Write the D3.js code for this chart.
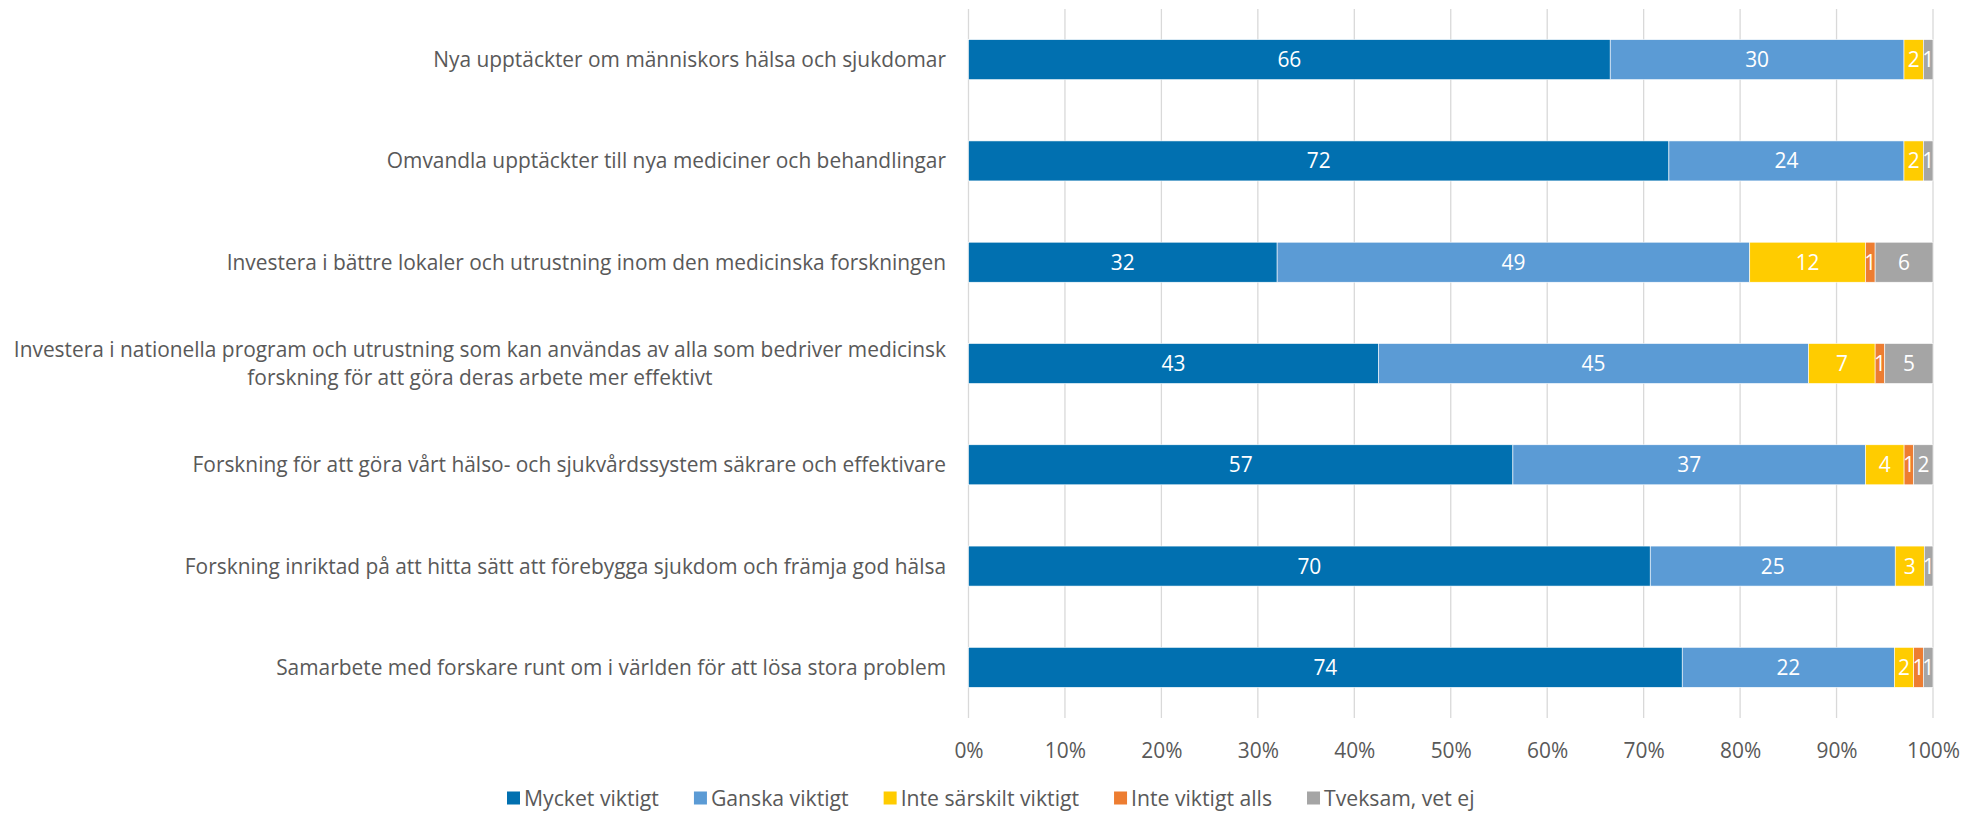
<!DOCTYPE html>
<html>
<head>
<meta charset="utf-8">
<script src="https://cdn.jsdelivr.net/npm/d3@7"></script>
<style>
  body { margin: 0; background: #fff; }
  text { font-family: 'Open Sans', sans-serif; }
</style>
</head>
<body>
<div class="svg-container"></div>
<script>
var categories = [
  "Nya upptäckter om människors hälsa och sjukdomar",
  "Omvandla upptäckter till nya mediciner och behandlingar",
  "Investera i bättre lokaler och utrustning inom den medicinska forskningen",
  "Investera i nationella program och utrustning som kan användas av alla som bedriver medicinsk|forskning för att göra deras arbete mer effektivt",
  "Forskning för att göra vårt hälso- och sjukvårdssystem säkrare och effektivare",
  "Forskning inriktad på att hitta sätt att förebygga sjukdom och främja god hälsa",
  "Samarbete med forskare runt om i världen för att lösa stora problem"
];
var seriesNames = ["Mycket viktigt", "Ganska viktigt", "Inte särskilt viktigt", "Inte viktigt alls", "Tveksam, vet ej"];
var seriesColors = ["#0170b0", "#5b9bd5", "#ffcc00", "#ed7d31", "#a5a5a5"];

var mycketViktigt = [66.4, 72.4, 32.0, 42.5, 56.5, 70.4, 74.0];
var ganskaViktigt = [30.4, 24.3, 49.0, 44.6, 36.6, 25.3, 22.0];
var inteSarskilt  = [2.0, 2.0, 12.0, 6.9, 4.0, 3.0, 2.0];
var inteAlls      = [0, 0, 1.0, 1.0, 1.0, 0, 1.0];
var tveksam       = [1.0, 1.0, 6.0, 5.0, 2.0, 0.9, 1.0];

var xTicks = [0, 10, 20, 30, 40, 50, 60, 70, 80, 90, 100];

var width = 1969, height = 815;
var plot = {left: 968.5, right: 1933, top: 9, bottom: 718};
var textColor = "#595959";
var fontSize = 20.9;
var legendFontSize = 21.2;

var series = [mycketViktigt, ganskaViktigt, inteSarskilt, inteAlls, tveksam];

// build rows, each normalised to 100% like a 100% stacked bar
var rows = categories.map(function(c, i) {
  var vals = series.map(function(s) { return s[i]; });
  var total = d3.sum(vals);
  var x0 = 0;
  var segs = vals.map(function(v, k) {
    var seg = {cat: c, k: k, value: v, x0: x0, x1: x0 + v / total * 100};
    x0 = seg.x1;
    return seg;
  });
  return {cat: c, segs: segs};
});

var x = d3.scaleLinear().domain([0, 100]).range([plot.left, plot.right]);
var y = d3.scaleBand().domain(categories).range([plot.top, plot.bottom])
  .paddingInner(0.605).paddingOuter(0.3025);

var svg = d3.select(".svg-container").append("svg")
  .attr("width", width)
  .attr("height", height);

// gridlines
svg.append("g").attr("id", "g_grid").selectAll("line").data(xTicks).enter().append("line")
  .attr("x1", function(d) { return x(d); })
  .attr("x2", function(d) { return x(d); })
  .attr("y1", plot.top)
  .attr("y2", plot.bottom)
  .attr("stroke", "#d9d9d9")
  .attr("stroke-width", 1.3);

// x tick labels
var xAxis = d3.axisBottom(x).tickValues(xTicks).tickSize(0).tickPadding(0)
  .tickFormat(function(d) { return d + "%"; });
svg.append("g").attr("transform", "translate(0," + 751 + ")").call(xAxis)
  .call(function(g) { g.select(".domain").remove(); })
  .selectAll("text")
    .attr("dy", "0.35em")
    .attr("fill", textColor)
    .style("font-family", "'Open Sans', sans-serif")
    .style("font-size", fontSize + "px");

// bars
var rowGroups = svg.append("g").attr("id", "g_bars").selectAll("g").data(rows).enter().append("g");

rowGroups.selectAll("rect").data(function(d) { return d.segs; }).enter().append("rect")
  .attr("x", function(d) { return x(d.x0); })
  .attr("y", function(d) { return y(d.cat); })
  .attr("width", function(d) { return x(d.x1) - x(d.x0); })
  .attr("height", y.bandwidth())
  .attr("fill", function(d) { return seriesColors[d.k]; })
  .attr("stroke", "#fff")
  .attr("stroke-width", 0.6);

// data labels
rowGroups.selectAll("text").data(function(d) { return d.segs.filter(function(s) { return s.value > 0; }); })
  .enter().append("text")
  .attr("x", function(d) { return (x(d.x0) + x(d.x1)) / 2; })
  .attr("y", function(d) { return y(d.cat) + y.bandwidth() / 2; })
  .attr("dy", "0.36em")
  .attr("text-anchor", "middle")
  .attr("fill", "#fff")
  .style("font-size", fontSize + "px")
  .text(function(d) { return Math.round(d.value); });

// category labels (right aligned, wrapped lines centred on each other)
var labelRight = 946;
var lineH = 28;
var labels = svg.append("g").attr("id", "g_labels").selectAll("text").data(categories).enter().append("text")
  .attr("fill", textColor)
  .style("font-size", fontSize + "px");

labels.each(function(c) {
  var lines = c.split("|");
  var t = d3.select(this);
  var yc = y(c) + y.bandwidth() / 2;
  var widths = lines.map(function(l) {
    var tmp = t.append("tspan").text(l);
    var w = tmp.node().getComputedTextLength();
    tmp.remove();
    return w;
  });
  var maxW = d3.max(widths);
  var cx = labelRight - maxW / 2;
  lines.forEach(function(l, i) {
    t.append("tspan")
      .attr("x", cx)
      .attr("y", yc + (i - (lines.length - 1) / 2) * lineH)
      .attr("dy", "0.36em")
      .attr("text-anchor", "middle")
      .text(l);
  });
});

// legend
var legend = svg.append("g").attr("id", "g_legend");
var lx = 507, ly = 798;
seriesNames.forEach(function(name, i) {
  legend.append("rect")
    .attr("x", lx).attr("y", ly - 6.5)
    .attr("width", 13).attr("height", 13)
    .attr("fill", seriesColors[i]);
  var t = legend.append("text")
    .attr("x", lx + 17).attr("y", ly)
    .attr("dy", "0.36em")
    .attr("fill", textColor)
    .style("font-size", legendFontSize + "px")
    .text(name);
  lx += 17 + t.node().getComputedTextLength() + 35;
});
</script>
</body>
</html>
